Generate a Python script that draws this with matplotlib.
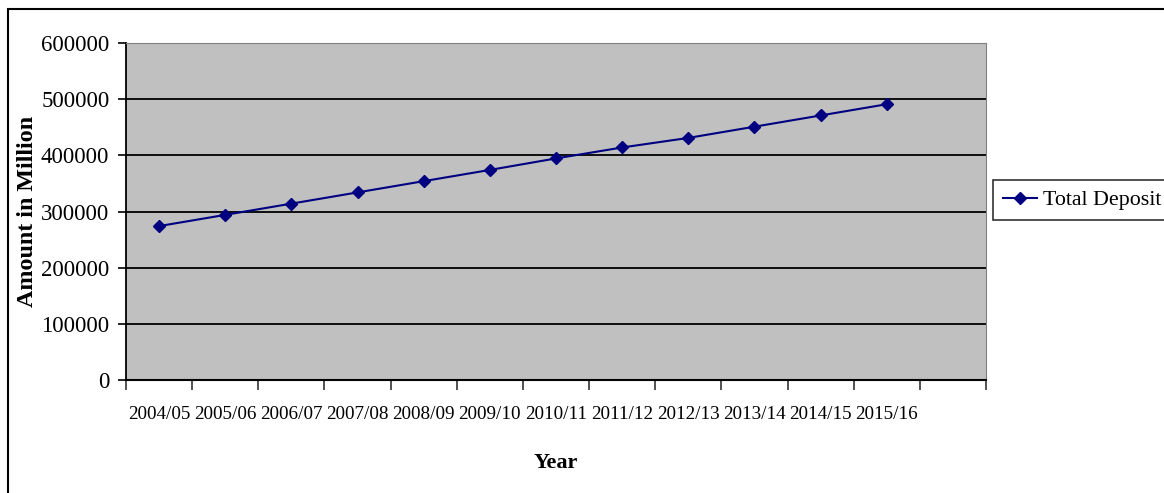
import matplotlib.pyplot as plt
from matplotlib.patches import Rectangle
from matplotlib.ticker import FixedLocator, NullFormatter, FixedFormatter

plt.rcParams["font.family"] = ["Liberation Serif", "DejaVu Serif"]

# total deposit by fiscal year (Rs. million)
years = ["2004/05", "2005/06", "2006/07", "2007/08", "2008/09", "2009/10",
         "2010/11", "2011/12", "2012/13", "2013/14", "2014/15", "2015/16"]
total_deposit = [274000, 294000, 314000, 334000, 354000, 374000,
                 394500, 414000, 431000, 451000, 471000, 491000]
y_ticks = [0, 100000, 200000, 300000, 400000, 500000, 600000]

W, H = 1164, 493
fig = plt.figure(figsize=(W / 100, H / 100), dpi=100)

# outer chart border (runs off the right and bottom edges)
fig.patches.append(Rectangle((8 / W, -0.1), 1.2, 1 - 9 / H + 0.1,
                             transform=fig.transFigure, fill=False,
                             edgecolor="black", linewidth=1.5))

ax = fig.add_axes([126 / W, 1 - 380 / H, (986 - 126) / W, (380 - 43) / H])
ax.set_facecolor("#C0C0C0")

x = list(range(len(years)))
line, = ax.plot(x, total_deposit, color="#000080", linewidth=1.5,
                marker="D", markersize=6, markerfacecolor="#000080",
                markeredgecolor="#000080", label="Total Deposit", zorder=3)

n_slots = len(years) + 1
ax.set_xlim(-0.5, n_slots - 0.5)
ax.set_ylim(0, 600000)

# category boundaries get the tick marks, labels sit in between
ax.xaxis.set_major_locator(FixedLocator([i - 0.5 for i in range(n_slots + 1)]))
ax.xaxis.set_major_formatter(NullFormatter())
ax.xaxis.set_minor_locator(FixedLocator(x))
ax.xaxis.set_minor_formatter(FixedFormatter(years))
ax.tick_params(axis="x", which="major", direction="out", length=7, width=1.2,
               color="#333333")
ax.tick_params(axis="x", which="minor", length=0, pad=19, labelsize=13.8)

ax.set_yticks(y_ticks)
ax.set_yticklabels([str(v) for v in y_ticks])
ax.tick_params(axis="y", direction="out", length=6, width=1.2, pad=6,
               labelsize=16.5)

for v in y_ticks[1:-1]:
    ax.axhline(v, color="black", linewidth=1.3, zorder=1)

ax.spines["left"].set_color("black")
ax.spines["bottom"].set_color("black")
ax.spines["left"].set_linewidth(1.3)
ax.spines["bottom"].set_linewidth(1.5)
ax.spines["top"].set_color("#808080")
ax.spines["right"].set_color("#808080")

fig.text(556 / W, 1 - 463 / H, "Year", ha="center", va="center",
         fontsize=16, fontweight="bold")
fig.text(28 / W, 1 - 211 / H, "Amount in Million", ha="center", va="center",
         rotation=90, fontsize=17.3, fontweight="bold")

leg = fig.legend(handles=[line], loc="upper left",
                 bbox_to_anchor=(993 / W, 1 - 180 / H),
                 bbox_transform=fig.transFigure, frameon=True, fancybox=False,
                 fontsize=15.8, borderaxespad=0, handlelength=1.55,
                 handletextpad=0.3, borderpad=0.45)
leg.get_frame().set_edgecolor("black")
leg.get_frame().set_linewidth(1.2)

fig.savefig("out.png", dpi=100)
